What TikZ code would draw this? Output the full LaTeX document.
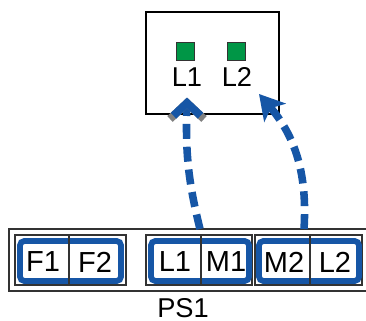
\documentclass[tikz,border=0pt]{standalone}
\usepackage{fontspec}
\setmainfont{Liberation Sans}
\usetikzlibrary{positioning,arrows.meta}
\definecolor{psblue}{RGB}{22,86,166}
\definecolor{ledgreen}{RGB}{0,150,70}

\begin{document}
\begin{tikzpicture}[x=0.02cm,y=-0.02cm]
\tikzstyle{lbl}=[font=\fontsize{15.5}{18}\selectfont,inner sep=0pt]
\tikzstyle{cell}=[font=\fontsize{16.5}{19}\selectfont,inner sep=0pt]
\tikzstyle{led}=[draw=black!80,fill=ledgreen,line width=0.5pt,minimum size=0.36cm,inner sep=0pt]
\tikzstyle{grp}=[draw=black!80,line width=0.6pt]
\tikzstyle{blu}=[draw=psblue,line width=3.3pt,rounded corners=2.5pt]
\tikzstyle{link}=[psblue,line width=4.3pt,dash pattern=on 8.5pt off 4.5pt]
\useasboundingbox (0,0) rectangle (366,321);
% upper box with the two leds
\draw[line width=0.6pt] (146,12) rectangle (279,114);
\node[led] (g1) at (185,51) {};
\node[led] (g2) at (236.5,51) {};
\node[lbl] (t1) at (187,77) {L1};
\node[lbl] (t2) at (237,77) {L2};
% PS1 strip (open on the right)
\draw[grp] (366,229) -- (9,229) -- (9,291) -- (366,291);
\draw[grp] (15,235) rectangle (126,285);
\draw[grp] (146,235) rectangle (252,285);
\draw[grp] (255,235) rectangle (362,285);
\draw[blu] (20,241) rectangle (121,281);
\draw[blu] (151,241) rectangle (249,281);
\draw[blu] (259,241) rectangle (359,281);
% cell dividers
\draw[grp] (69,235) -- (69,285);
\draw[grp] (201,235) -- (201,285);
\draw[grp] (310,235) -- (310,285);
\node[cell] (f1) at (43,262) {F1};
\node[cell] (f2) at (95,262) {F2};
\node[cell] (l1) at (175,262) {L1};
\node[cell] (m1) at (226,262) {M1};
\node[cell] (m2) at (284,262) {M2};
\node[cell] (l2) at (335,262) {L2};
\node[lbl] (ps) at (183,308) {PS1};
% links (dashed)
\coordinate (s1) at (200,229);
\coordinate (s2) at (304,229);
\coordinate (h1) at (187,103);
\coordinate (h2) at (259,94);
\draw[link] (s1) to[bend left=8] (h1);
\draw[link,-{Stealth[length=14pt,width=16pt,inset=3.5pt]}] (s2) to[bend right=22] (h2);
% chevron head of the first link
\draw[gray,line width=4.5pt,miter limit=4] ([shift={(-17,16)}]h1) -- (h1) -- ([shift={(17,16)}]h1);
\draw[psblue,line width=4.5pt,miter limit=4] ([shift={(-13.5,12.7)}]h1) -- (h1) -- ([shift={(13.5,12.7)}]h1);
\end{tikzpicture}
\end{document}
